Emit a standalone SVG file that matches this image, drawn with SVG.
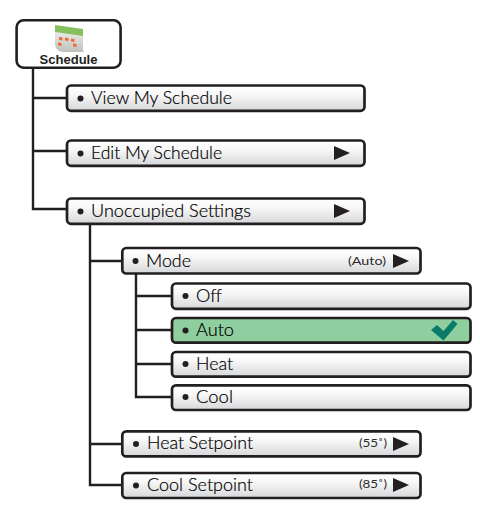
<svg xmlns="http://www.w3.org/2000/svg" width="480" height="514" viewBox="0 0 480 514">
<style>
.b{stroke:#231f20;stroke-width:2.700;fill:url(#g)}
.c{fill:none;stroke:#231f20;stroke-width:2.400}
.t{font-family:"Lato","Open Sans",sans-serif;font-weight:300;font-size:17px;fill:#000;stroke:#000;stroke-width:.2}
.s{font-family:"Lato","Open Sans",sans-serif;font-weight:400;font-size:11.500px;fill:#2a2a2a}
.a{fill:#231f20}
</style>
<defs>
<linearGradient id="g" x1="0" y1="0" x2="0" y2="1"><stop offset="0" stop-color="#ffffff"/><stop offset="0.35" stop-color="#f8f8f8"/><stop offset="1" stop-color="#d6d7d9"/></linearGradient>
<linearGradient id="ic" x1="0" y1="0" x2="0" y2="1"><stop offset="0" stop-color="#f2f2ee"/><stop offset="1" stop-color="#bfc1bc"/></linearGradient>
</defs>
<g id="connectors">
<path class="c" d="M33 68V209H67M33 98H67M33 151H67"/>
<path class="c" d="M90 224V485H122M90 261H122M90 444H122"/>
<path class="c" d="M136 274V397H172M136 296H172M136 330H172M136 364H172"/>
</g>
<g id="schedule">
<rect x="16.600" y="20.300" width="104" height="47.400" rx="7" fill="#fff" stroke="#231f20" stroke-width="2.600"/>
<path d="M55 28L83 32V50L84 52H62Q55 50 55 44Z" fill="url(#ic)"/>
<path d="M55 25L83 29V36L55 32Z" fill="#86bf5e"/>
<path d="M59 37l3.500 .5v3l-3.500-.5zM65 37.500l3.500 .5v3l-3.500-.5zM71 38.500l3.500 .5v3l-3.500-.5zM58 42.500l3.500 .5v3l-3.500-.5zM73 43.500l3.500 .5v3l-3.500-.5z" fill="#ee6b3c"/>
<text x="68.500" y="64" text-anchor="middle" font-family="Liberation Sans,Arial,sans-serif" font-weight="700" font-size="12.500" fill="#231f20" textLength="58" lengthAdjust="spacingAndGlyphs">Schedule</text>
</g>
<g id="view-my-schedule">
<rect class="b" x="67" y="85.500" width="297.500" height="25.300" rx="4"/>
<circle class="a" cx="80.500" cy="98.500" r="3"/>
<text class="t" x="91" y="104" textLength="141" lengthAdjust="spacingAndGlyphs">View My Schedule</text>
</g>
<g id="edit-my-schedule">
<rect class="b" x="67" y="140.500" width="297.500" height="25.300" rx="4"/>
<circle class="a" cx="80.500" cy="153.500" r="3"/>
<text class="t" x="91" y="159" textLength="131" lengthAdjust="spacingAndGlyphs">Edit My Schedule</text>
<path class="a" d="M334 146L350 153L334 160Z"/>
</g>
<g id="unoccupied-settings">
<rect class="b" x="67" y="198.500" width="297.500" height="25.300" rx="4"/>
<circle class="a" cx="80.500" cy="211.500" r="3"/>
<text class="t" x="91" y="217" textLength="160" lengthAdjust="spacingAndGlyphs">Unoccupied Settings</text>
<path class="a" d="M334 204L350 211L334 218Z"/>
</g>
<g id="mode">
<rect class="b" x="122.300" y="248" width="298.200" height="25.500" rx="4"/>
<circle class="a" cx="135.500" cy="261" r="3"/>
<text class="t" x="146" y="267" textLength="45" lengthAdjust="spacingAndGlyphs">Mode</text>
<text class="s" x="348" y="265" textLength="38" lengthAdjust="spacingAndGlyphs">(Auto)</text>
<path class="a" d="M393 254L409 261L393 268Z"/>
</g>
<g id="off">
<rect class="b" x="172" y="283.500" width="298.500" height="25.300" rx="4"/>
<circle class="a" cx="185.500" cy="296" r="3"/>
<text class="t" x="196" y="302" textLength="26" lengthAdjust="spacingAndGlyphs">Off</text>
</g>
<g id="auto">
<rect x="172" y="318" width="298.500" height="24.700" rx="4" fill="#8fce9f" stroke="#231f20" stroke-width="2.700"/>
<circle class="a" cx="185.500" cy="330.500" r="3"/>
<text class="t" x="196" y="336" textLength="38" lengthAdjust="spacingAndGlyphs">Auto</text>
<path d="M431 330L437 325L443.500 331L453 320L457.500 324L443.500 340.500Z" fill="#0a7b69"/>
</g>
<g id="heat">
<rect class="b" x="172" y="352" width="298.500" height="24.700" rx="4"/>
<circle class="a" cx="185.500" cy="364" r="3"/>
<text class="t" x="196" y="370" textLength="37" lengthAdjust="spacingAndGlyphs">Heat</text>
</g>
<g id="cool">
<rect class="b" x="172" y="385.300" width="298.500" height="24.700" rx="4"/>
<circle class="a" cx="185.500" cy="397" r="3"/>
<text class="t" x="196" y="403" textLength="37" lengthAdjust="spacingAndGlyphs">Cool</text>
</g>
<g id="heat-setpoint">
<rect class="b" x="122.300" y="431.300" width="298.200" height="25.100" rx="4"/>
<circle class="a" cx="136" cy="444" r="3"/>
<text class="t" x="147" y="449" textLength="106" lengthAdjust="spacingAndGlyphs">Heat Setpoint</text>
<text class="s" x="359" y="447" font-size="10.500" textLength="28" lengthAdjust="spacingAndGlyphs">(55˚)</text>
<path class="a" d="M393 437L409 444L393 451Z"/>
</g>
<g id="cool-setpoint">
<rect class="b" x="122.300" y="473" width="298.200" height="25" rx="4"/>
<circle class="a" cx="136" cy="485.500" r="3"/>
<text class="t" x="147" y="491" textLength="106" lengthAdjust="spacingAndGlyphs">Cool Setpoint</text>
<text class="s" x="359" y="488" font-size="10.500" textLength="28" lengthAdjust="spacingAndGlyphs">(85˚)</text>
<path class="a" d="M393 478L409 485L393 492Z"/>
</g>
</svg>
